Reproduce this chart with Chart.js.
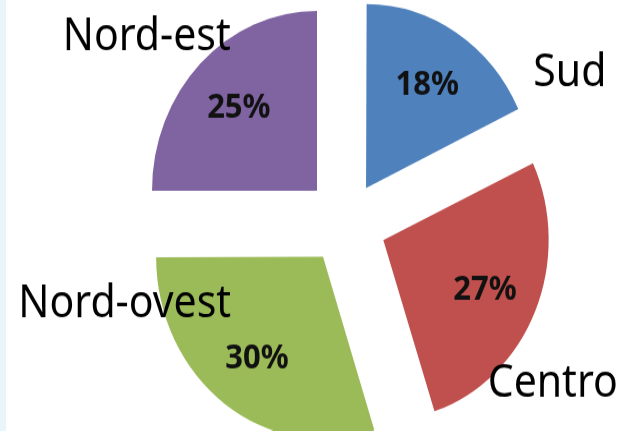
<!DOCTYPE html>
<html>
<head>
<meta charset="utf-8">
<script src="https://cdn.jsdelivr.net/npm/chart.js@4/dist/chart.umd.min.js"></script>
<style>
    html, body { margin: 0; padding: 0; background: #fff; }
    body { width: 621px; height: 431px; overflow: hidden; position: relative; }
    .edge { position: absolute; left: 0; top: 0; width: 6px; height: 431px; background: #eaf5fa; }
    /* the source image is a little taller than wide, so stretch the drawing */
    .wrap { position: absolute; left: 0; top: 0; width: 621px; height: 395px; transform: scaleY(1.09); transform-origin: 0 0; }
</style>
</head>
<body>
<div class="edge"></div>
<div class="wrap"><canvas id="pieChart"></canvas></div>
<script>
// Chart data
const regions = ['Sud', 'Centro', 'Nord-ovest', 'Nord-est'];
const shares = [18, 27, 30, 25];
const sliceColors = ['#4f81bd', '#c0504d', '#9bbb59', '#8064a2'];

// where each region name sits: angle (deg, clockwise from top) and distance in radii
const nameAngles = [58, 125, 252, 311];
const nameDistances = [1.6, 1.53, 1.41, 1.6];

const EXPLODE = 41; // px each slice is pulled out

// Chart.js moves an arc by offset/4 * (1 + (1 - sin(circumference))), undo that
function sliceOffset(context) {
    const total = shares.reduce((a, b) => a + b, 0);
    const circ = shares[context.dataIndex] / total * Math.PI * 2;
    const fix = 1 - Math.sin(Math.min(Math.PI, circ));
    return EXPLODE * 4 / (1 + fix);
}

// Draws the percentages inside the slices and the region names around the pie
const pieLabels = {
    id: 'pieLabels',
    afterDatasetsDraw(chart, args, opts) {
        const ctx = chart.ctx;
        const meta = chart.getDatasetMeta(0);
        ctx.save();
        meta.data.forEach(function(arc, i) {
            const p = arc.getProps(['x', 'y', 'startAngle', 'endAngle', 'outerRadius'], true);
            const mid = (p.startAngle + p.endAngle) / 2;
            const d = EXPLODE + p.outerRadius * 0.67;
            ctx.fillStyle = '#111';
            ctx.textAlign = 'center';
            ctx.textBaseline = 'alphabetic';
            ctx.font = 'bold 31px "Noto Sans"';
            ctx.fillText(chart.data.datasets[0].data[i] + '%',
                p.x + Math.cos(mid) * d, p.y + Math.sin(mid) * d + 11);

            const a = (opts.angles[i] - 90) * Math.PI / 180;
            const r = p.outerRadius * opts.distances[i];
            ctx.fillStyle = '#000';
            ctx.font = '41px "Noto Sans"';
            ctx.fillText(chart.data.labels[i], p.x + Math.cos(a) * r, p.y + Math.sin(a) * r + 15);
        });
        ctx.restore();
    }
};

document.addEventListener('DOMContentLoaded', function() {
    const ctx = document.getElementById('pieChart').getContext('2d');
    new Chart(ctx, {
        type: 'pie',
        data: {
            labels: regions,
            datasets: [{
                data: shares,
                backgroundColor: sliceColors,
                borderWidth: 0,
                offset: sliceOffset
            }]
        },
        options: {
            responsive: true,
            maintainAspectRatio: false,
            animation: false,
            radius: 165,
            layout: { padding: { left: 71, right: 0, top: 13, bottom: 0 } },
            plugins: {
                legend: { display: false },
                tooltip: { enabled: false },
                pieLabels: { angles: nameAngles, distances: nameDistances }
            }
        },
        plugins: [pieLabels]
    });
});
</script>
</body>
</html>
